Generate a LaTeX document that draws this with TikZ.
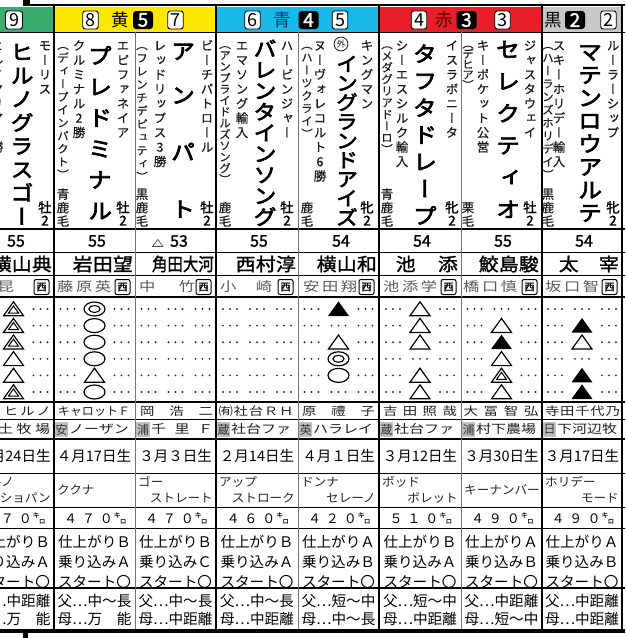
\documentclass[tikz,border=0pt]{standalone}
\usepackage{graphicx}
\usepackage{fontspec}
\setmainfont{Noto Sans CJK JP}
\newfontfamily\jp{Noto Sans CJK JP}
\newfontfamily\jpw[FakeStretch=1.25]{Noto Sans CJK JP}
\newfontfamily\jpm[FakeStretch=1.05]{Noto Sans CJK JP}
\newfontfamily\jpb[FakeBold=1.5]{Noto Sans CJK JP}
\newfontfamily\jpbw[FakeBold=1.5,FakeStretch=1.1]{Noto Sans CJK JP}
\newfontfamily\jpv[RawFeature=+vert,FakeBold=0.4]{Noto Sans CJK JP}
\newfontfamily\jpvb[RawFeature=+vert,FakeBold=3,FakeStretch=1.1]{Noto Sans CJK JP}
\newfontfamily\jpvs[RawFeature=+vert,FakeBold=1.5]{Noto Sans CJK JP}
\newcommand\fs[1]{\fontsize{#1}{#1}\selectfont}
\makeatletter
\newdimen\vt@p
\newcommand\vt[2]{\vt@p=#1\relax\vbox{\offinterlineskip\vt@a#2\@nil}}
\def\vt@a#1{\ifx\@nil#1\else\vt@one{#1}\expandafter\vt@a\fi}
\def\vt@one#1{\hbox to \vt@p{\hss\vbox to \vt@p{\vss\hbox{\raisebox{0pt}[.88em][.12em]{#1}}\vss}\hss}}
\makeatother
\definecolor{wgreen}{RGB}{56,172,108}
\definecolor{wyellow}{RGB}{255,232,0}
\definecolor{wblue}{RGB}{24,184,232}
\definecolor{wred}{RGB}{232,30,40}
\definecolor{wgray}{RGB}{200,200,200}
\definecolor{aocol}{RGB}{20,50,110}
\definecolor{akacol}{RGB}{70,0,0}
\tikzset{
 hnum/.style={draw, fill=white, rounded corners=2.5pt, minimum width=15.5pt, minimum height=18pt, inner sep=0pt, line width=0.9pt, font=\jp\fs{18}},
 wnum/.style={fill=black, text=white, rounded corners=3pt, minimum width=20pt, minimum height=18pt, inner sep=0pt, font=\jpb\fs{19}},
 frc/.style={inner sep=0pt, font=\jp\fs{17.5}},
 sr/.style={inner sep=0pt, anchor=north, text=black!90, font=\jpv\fs{12.5}},
 bk/.style={inner sep=0pt, anchor=north, text=black!88, font=\jpv\fs{11.5}},
 ct/.style={inner sep=0pt, anchor=south, text=black!88, font=\jpv\fs{12.5}},
 sx/.style={inner sep=0pt, anchor=south, font=\jpvs\fs{13.5}},
 hn/.style={inner sep=0pt, anchor=north, font=\jpvb\fs{21}},
 wt/.style={inner sep=0pt, font=\jpb\fs{16}},
 jk/.style={anchor=east, inner sep=0pt, font=\jpbw\fs{18}},
 tr/.style={anchor=west, inner sep=0pt, text=black!65, font=\jpw\fs{13}},
 tb/.style={draw, line width=1pt, rounded corners=2pt, minimum width=15pt, minimum height=15pt, inner sep=0pt, font=\jpb\fs{10}},
 ow/.style={inner sep=0pt, text=black!88, font=\jpw\fs{11.5}},
 fm/.style={anchor=west, inner sep=0pt, text=black!88, font=\jpw\fs{12}},
 fb/.style={fill=black!25, minimum width=13.5pt, minimum height=15pt, inner sep=0pt, text=black!80, font=\jp\fs{12}},
 bd/.style={inner sep=0pt, font=\jp\fs{14.5}},
 sbw/.style={anchor=west, inner sep=0pt, text=black!85, font=\jpm\fs{12}},
 sbe/.style={anchor=east, inner sep=0pt, text=black!85, font=\jpm\fs{12}},
 kg/.style={inner sep=0pt, font=\jp\fs{13}},
 cd/.style={inner sep=0pt, font=\jp\fs{14.6}},
 dotc/.style={fill=black!80},
 mkline/.style={line width=1.2pt, line join=miter},
 frameline/.style={line width=1.8pt},
 innerline/.style={line width=1pt, black!55},
 pics/sd/.style={code={\foreach \dx in {-34,-27,-20,20,27,34}{\fill[dotc] (\dx,0) circle (1.05);}}},
 pics/mkN/.style={code={\foreach \dx in {-34,-27,-20,-7,0,7,20,27,34}{\fill[dotc] (\dx,0) circle (1.05);}}},
 pics/mkT/.style={code={\pic{sd};\draw[mkline] (-10,6.8) -- (10,6.8) -- (0,-7.2) -- cycle;}},
 pics/mkF/.style={code={\pic{sd};\fill (-10.5,7) -- (10.5,7) -- (0,-7.6) -- cycle;}},
 pics/mkD/.style={code={\pic{sd};\draw[mkline] (-10,6.8) -- (10,6.8) -- (0,-7.2) -- cycle; \draw[line width=1pt] (-5,4) -- (5,4) -- (0,-3.1) -- cycle;}},
 pics/mkE/.style={code={\pic{sd};\draw[mkline] (0,0) ellipse [x radius=10.5,y radius=7]; \draw[line width=1.1pt] (0,0) ellipse [x radius=5.6,y radius=3.5];}},
 pics/mkO/.style={code={\pic{sd};\draw[mkline] (0,0) ellipse [x radius=10.5,y radius=7];}},
}
\newcommand\Vsire[3]{\node[sr] (#1) at (#2,38) {\vt{14.5pt}{#3}};}
\newcommand\Vdam[3]{\node[sr] (#1) at (#2,38) {\vt{14.5pt}{#3}};}
\newcommand\Vbrk[4]{\node[bk] (#1) at (#2,38) {\vt{#3}{#4}};}
\newcommand\Vcoat[3]{\node[ct] (#1) at (#2,228) {\vt{13.5pt}{#3}};}
\newcommand\Vsex[3]{\node[sx] (#1) at (#2,227) {\vt{13pt}{#3}};}
\newcommand\Vname[6]{\node[hn] (#1) at (#2,#3) {\fs{#4}\vt{#5}{#6}};}
\newcommand\markcol[7]{\foreach \yy/\mm in {309/#2,325.6/#3,342.2/#4,358.8/#5,375.4/#6,392/#7}{\edef\mkcmd{\noexpand\pic at (#1,\yy) {mk\mm};}\mkcmd}}
\begin{document}
\begin{tikzpicture}[x=1pt,y=-1pt]
\useasboundingbox (0,0) rectangle (625,638);
\clip (0,0) rectangle (625,638);
\fill[white] (0,0) rectangle (625,638);
% header bands
\fill[wgreen] (0,7) rectangle (54,32);
\fill[wyellow] (54,7) rectangle (216,32);
\fill[wblue] (216,7) rectangle (379,32);
\fill[wred] (379,7) rectangle (542,32);
\fill[wgray] (542,7) rectangle (622,32);
% horizontal rules
\fill (23,0) rectangle (30,6);
\draw[line width=2.4pt] (28,5) -- (625,5);
\foreach \yy/\lw in {32/0.9,229/1.8,252/0.8,275/1.0,297/2.0,402/1.2,419/0.8,439/1.2,473/1.0,507/1.0,528/1.0,588/1.2}{\draw[line width=\lw pt] (0,\yy) -- (625,\yy);}
\draw[line width=3.6pt] (0,631) -- (625,631);
\fill (23,633) rectangle (28,638);
% vertical rules
\foreach \xx in {135,298,461}{\draw[innerline] (\xx,32) -- (\xx,629);}
\foreach \xx in {54,216,379,542,622}{\draw[frameline] (\xx,5) -- (\xx,629);}
% header labels
\node[hnum, minimum width=17pt] (h9) at (14,20) {9};
\node[hnum] (h8) at (90.5,20) {8};
\node[frc] (kiiro) at (120,20) {黄};
\node[wnum] (w5) at (143,20) {5};
\node[hnum] (h7) at (175.5,20) {7};
\node[hnum] (h6) at (252.5,20) {6};
\node[frc, text=aocol] (ao) at (282,20) {青};
\node[wnum] (w4) at (308.5,20) {4};
\node[hnum] (h5) at (340,20) {5};
\node[hnum] (h4) at (419,20) {4};
\node[frc, text=akacol] (aka) at (444,20) {赤};
\node[wnum] (w3) at (466.5,20) {3};
\node[hnum] (h3) at (502.5,20) {3};
\node[frc] (kuro) at (553,20) {黒};
\node[wnum] (w2) at (575,20) {2};
\node[hnum] (h2) at (608.5,20) {2};
% column 0
\Vsire{s0}{45}{モーリス}
\Vdam{d0}{-3}{ヒルノマリア2勝}
\Vname{n0}{22}{40}{21}{23.5pt}{ヒルノグラスゴー}
\Vsex{x0}{45}{牡2}
% column 1
\Vsire{s1}{123}{エピファネイア}
\Vdam{d1}{79}{クルミナル2勝}
\Vbrk{b1}{63}{13pt}{（ディープインパクト）}
\Vname{n1}{100}{40}{22}{31pt}{プレドミナル}
\Vcoat{c1}{63}{青鹿毛}
\Vsex{x1}{123}{牡2}
% column 2
\Vsire{s2}{207}{ビーチパトロール}
\Vdam{d2}{160}{レッドリップス3勝}
\Vbrk{b2}{142}{13.2pt}{（フレンチデピュティ）}
\node[hn, anchor=center] (n2a) at (183,51) {\fs{22}\vt{22pt}{ア}};
\node[hn, anchor=center] (n2b) at (183,95) {\fs{22}\vt{22pt}{ン}};
\node[hn, anchor=center] (n2c) at (183,152) {\fs{22}\vt{22pt}{パ}};
\node[hn, anchor=center] (n2d) at (183,209) {\fs{22}\vt{22pt}{ト}};
\Vcoat{c2}{142}{黒鹿毛}
\Vsex{x2}{207}{牡2}
% column 3
\Vsire{s3}{287}{ハービンジャー}
\Vdam{d3}{242}{エマソング輸入}
\Vbrk{b3}{225}{11.3pt}{（アンプライドルズソング）}
\Vname{n3}{265}{38}{21}{21pt}{バレンタインソング}
\Vcoat{c3}{225}{鹿毛}
\Vsex{x3}{287}{牡2}
% column 4
\Vsire{s4}{367}{キングマン}
\Vdam{d4}{320}{ヌーヴォレコルト6勝}
\Vbrk{b4}{307}{12.75pt}{（ハーツクライ）}
\node[draw, circle, line width=0.7pt, inner sep=0.6pt, font=\jp\fs{9}, text=black!85] (gai) at (341,44) {外};
\Vname{n4}{347}{54}{20}{19.2pt}{イングランドアイズ}
\Vcoat{c4}{307}{鹿毛}
\Vsex{x4}{367}{牝2}
% column 5
\Vsire{s5}{452}{イスラボニータ}
\Vdam{d5}{402}{シーエスシルク輸入}
\Vbrk{b5}{387}{11.7pt}{（メダグリアドーロ）}
\Vname{n5}{425}{40}{22}{27pt}{タフタドレープ}
\Vcoat{c5}{387}{青鹿毛}
\Vsex{x5}{452}{牝2}
% column 6
\Vsire{s6}{530}{ジャスタウェイ}
\Vdam{d6}{483}{キーポケット公営}
\Vbrk{b6}{468}{10.4pt}{（デヒア）}
\Vname{n6}{508}{33}{22}{32pt}{セレクティオ}
\Vcoat{c6}{468}{栗毛}
\Vsex{x6}{530}{牡2}
% column 7
\Vsire{s7}{613}{ルーラーシップ}
\Vdam{d7}{559}{スキーホリデー輸入}
\Vbrk{b7}{548}{13pt}{（ハーランズホリデイ）}
\Vname{n7}{590}{40}{22}{23pt}{マテンロウアルテ}
\Vcoat{c7}{548}{黒鹿毛}
\Vsex{x7}{613}{牝2}
% weights
\node[wt] (wt0) at (16,241) {55};
\node[wt] (wt1) at (97,241) {55};
\draw[line width=0.7pt, black!70] (152.5,246.5) -- (163,246.5) -- (157.75,239.5) -- cycle;
\node[wt] (wt2) at (179,241) {53};
\node[wt] (wt3) at (259,241) {55};
\node[wt] (wt4) at (341,241) {54};
\node[wt] (wt5) at (422,241) {54};
\node[wt] (wt6) at (503,241) {55};
\node[wt] (wt7) at (584,241) {54};
% jockeys
\node[jk] (j0) at (52,264) {\makebox[60pt][s]{横\hfill 山\hfill 典}};
\node[jk] (j1) at (133,264) {\makebox[60pt][s]{岩\hfill 田\hfill 望}};
\node[jk] (j2) at (214,264) {\scalebox{0.78}[1]{角田大河}};
\node[jk] (j3) at (296,264) {\makebox[60pt][s]{西\hfill 村\hfill 淳}};
\node[jk] (j4) at (377,264) {\makebox[60pt][s]{横\hfill 山\hfill 和}};
\node[jk] (j5) at (458,264) {\makebox[62pt][s]{池\hfill 添}};
\node[jk] (j6) at (539,264) {\makebox[60pt][s]{鮫\hfill 島\hfill 駿}};
\node[jk] (j7) at (619,264) {\makebox[60pt][s]{太\hfill 宰}};
% trainers
\node[tr, anchor=center] (t0) at (6,287) {昆};
\node[tr] (t1) at (57,287) {\makebox[54pt][s]{藤\hfill 原\hfill 英}};
\node[tr] (t2) at (139,287) {\makebox[56pt][s]{中\hfill 竹}};
\node[tr] (t3) at (220,287) {\makebox[52pt][s]{小\hfill 崎}};
\node[tr] (t4) at (303,287) {\makebox[54pt][s]{安\hfill 田\hfill 翔}};
\node[tr] (t5) at (383,287) {\makebox[54pt][s]{池\hfill 添\hfill 学}};
\node[tr] (t6) at (463,287) {\makebox[54pt][s]{橋\hfill 口\hfill 慎}};
\node[tr] (t7) at (545,287) {\makebox[54pt][s]{坂\hfill 口\hfill 智}};
\foreach \xx [count=\i] in {41.5,122.5,203.5,285.5,366.5,448.5,529.5,609.5}{\node[tb] (tb\i) at (\xx,287) {西};}
% marks
\markcol{13.5}{D}{D}{D}{T}{T}{D}
\markcol{94.5}{E}{O}{O}{O}{T}{O}
\markcol{175.5}{N}{N}{N}{N}{N}{N}
\markcol{257}{N}{N}{N}{N}{N}{N}
\markcol{338.5}{F}{N}{T}{E}{O}{N}
\markcol{420}{T}{T}{T}{N}{T}{T}
\markcol{501.5}{N}{T}{F}{T}{D}{T}
\markcol{582}{N}{F}{T}{N}{F}{F}
% owners
\node[ow] (o0) at (27.5,411) {\makebox[47pt][s]{ヒ\hfill ル\hfill ノ}};
\node[ow, font=\jpm\fs{11.5}] (o1) at (94,411) {キャロットＦ};
\node[ow] (o2) at (176.5,411) {\makebox[73pt][s]{岡\hfill 浩\hfill 二}};
\node[ow] (o3) at (256,411) {\makebox[75pt][s]{㈲\hfill 社\hfill 台\hfill Ｒ\hfill Ｈ}};
\node[ow] (o4) at (338.5,411) {\makebox[73pt][s]{原\hfill 禮\hfill 子}};
\node[ow] (o5) at (420,411) {\makebox[74pt][s]{吉\hfill 田\hfill 照\hfill 哉}};
\node[ow] (o6) at (501,411) {\makebox[75pt][s]{大\hfill 冨\hfill 智\hfill 弘}};
\node[ow] (o7) at (582.5,411) {\makebox[75pt][s]{寺\hfill 田\hfill 千\hfill 代\hfill 乃}};
% farms
\node[fm] (f0) at (-2,429) {\makebox[52pt][s]{土\hfill 牧\hfill 場}};
\node[fb] (fb1) at (61.5,429.5) {安};
\node[fm] (f1) at (69,429) {ノーザン};
\node[fb] (fb2) at (143,429.5) {浦};
\node[fm] (f2) at (151,429) {\makebox[62pt][s]{千\hfill 里\hfill Ｆ}};
\node[fb] (fb3) at (223.5,429.5) {蔵};
\node[fm] (f3) at (231,429) {社台ファ};
\node[fb] (fb4) at (305.5,429.5) {英};
\node[fm] (f4) at (313,429) {ハラレイ};
\node[fb] (fb5) at (386.5,429.5) {蔵};
\node[fm] (f5) at (394,429) {社台ファ};
\node[fb] (fb6) at (468.5,429.5) {浦};
\node[fm] (f6) at (476,429) {村下農場};
\node[fb] (fb7) at (549.5,429.5) {日};
\node[fm] (f7) at (557,429) {下河辺牧};
% birthdays
\node[bd] (bd0) at (13.5,456) {３月24日生};
\node[bd] (bd1) at (94,456) {４月17日生};
\node[bd] (bd2) at (175.5,456) {３月３日生};
\node[bd] (bd3) at (257,456) {２月14日生};
\node[bd] (bd4) at (338.5,456) {４月１日生};
\node[bd] (bd5) at (420,456) {３月12日生};
\node[bd] (bd6) at (501.5,456) {３月30日生};
\node[bd] (bd7) at (582,456) {３月17日生};
% siblings
\node[sbw] (sa0) at (-24,482) {ヒルノ};
\node[sbe] (sb0) at (51,498) {ショパン};
\node[sbw] (sa1) at (57,490) {ククナ};
\node[sbw] (sa2) at (138,482) {ゴー};
\node[sbe] (sb2) at (213,498) {ストレート};
\node[sbw] (sa3) at (219,482) {アップ};
\node[sbe] (sb3) at (295,498) {ストローク};
\node[sbw] (sa4) at (301,482) {ドンナ};
\node[sbe] (sb4) at (376,498) {セレーノ};
\node[sbw] (sa5) at (382,482) {ポッド};
\node[sbe] (sb5) at (458,498) {ボレット};
\node[sbw] (sa6) at (464,490) {キーナンバー};
\node[sbw] (sa7) at (545,482) {ホリデー};
\node[sbe] (sb7) at (619,498) {モード};
% body weights
\foreach \cc/\wv [count=\i] in {13.5/{４\hspace{5pt}７\hspace{5pt}０},94.5/{４\hspace{5pt}７\hspace{5pt}０},175.5/{４\hspace{5pt}７\hspace{5pt}０},257/{４\hspace{5pt}６\hspace{5pt}０},338.5/{４\hspace{5pt}２\hspace{5pt}０},420/{５\hspace{5pt}１\hspace{5pt}０},501.5/{４\hspace{5pt}９\hspace{5pt}０},582/{４\hspace{5pt}９\hspace{5pt}０}}{\node[kg] (kg\i) at (\cc+1,518) {\wv\hspace{1pt}㌔};}
% condition
\foreach \cc/\aa/\bb [count=\i] in {13.5/Ｂ/Ａ,94.5/Ｂ/Ａ,175.5/Ｂ/Ｃ,257/Ｂ/Ａ,338.5/Ａ/Ｂ,420/Ｂ/Ａ,501.5/Ａ/Ｂ,582/Ａ/Ｂ}{
 \node[cd] (ca\i) at (\cc,542) {仕上がり\aa};
 \node[cd] (cb\i) at (\cc,562) {乗り込み\bb};
 \node[cd] (cc\i) at (\cc,582) {スタート〇};}
% distance
\foreach \cc/\aa/\bb [count=\i] in {13.5/中距離/万　能,94.5/中〜長/万　能,175.5/中〜長/中距離,257/中〜長/中距離,338.5/短〜中/中〜長,420/短〜中/中距離,501.5/中距離/短〜中,582/中距離/中距離}{
 \node[cd] (da\i) at (\cc,601) {父…\aa};
 \node[cd] (db\i) at (\cc,619) {母…\bb};}
\end{tikzpicture}
\end{document}
